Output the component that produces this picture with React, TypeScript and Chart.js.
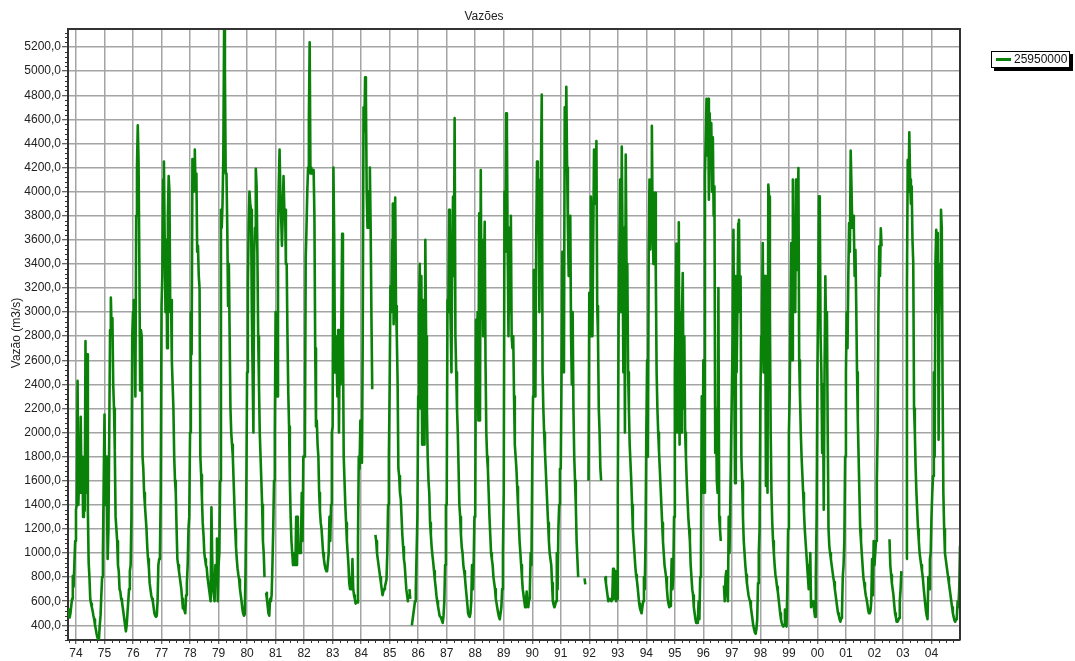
import React, { useEffect, useRef } from 'react';
import { Chart, registerables } from 'chart.js';

Chart.register(...registerables);

// Decade (10-day) values, 36 per year (index 0 = early January ... 35 = late December)
const y1973 = [530, 470, 465, 500, 560, 620, 810, 720, 920, 1100]; // starts at decade 26
const y1974 = [1360,1400,2430,1400,1650,1500,2130,1500,1800,1300,1700,1350,2760,1500,2650,1350,920,800,620,580,550,520,480,450,400,370,330,300,285,290,400,480,650,800,1000,1600];
const y1975 = [2150,1400,1800,1500,950,1200,2000,2850,3120,2850,2950,2400,2200,1850,1300,1200,1100,900,850,700,680,620,600,550,500,450,400,350,400,500,600,700,850,900,1300,2800];
const y1976 = [3000,3100,2800,2300,3800,4200,4550,4250,3400,2350,2850,2800,1800,1700,1500,1400,1300,1200,1050,950,880,750,700,650,620,600,550,500,480,470,480,600,900,950,1000,1500];
const y1977 = [3050,3300,4100,4250,3600,3000,3600,2700,3800,4130,4000,3000,3100,2600,2400,2200,1800,1600,1500,1200,950,900,850,800,750,700,620,540,560,520,500,650,750,900,1200,1300];
const y1978 = [2000,3000,2650,4270,4000,4200,4350,4000,4150,3500,3550,3300,3200,1800,1650,1450,1250,1150,1000,950,900,880,800,750,700,650,600,1380,950,700,700,600,900,750,1120,600];
const y1979 = [900,1000,1600,3850,3700,3900,4300,5350,5000,4150,4150,3700,3050,3400,2800,2200,2000,1900,1800,1600,1400,1200,1050,950,870,820,780,700,650,600,540,500,480,490,820,1470];
const y1980 = [2500,3200,3740,4000,3900,3850,3000,2500,2000,3500,3700,4190,4050,3500,2800,2400,2000,1800,1600,1400,1100,1000,800,null,670,620,560,500,480,620,600,650,900,1200,1600,2000];
const y1981 = [3000,2800,2300,3600,4050,4350,4000,3800,3550,3800,4130,3850,3850,3400,3400,2800,2330,2050,1600,1300,1100,1000,900,950,1000,900,1300,900,1300,1000,1000,1000,1050,1500,1100,1800];
const y1982 = [1800,1900,3450,3700,4000,4200,4600,5240,4150,4200,4150,4150,4180,3800,2700,2050,2100,1900,1800,1500,1350,1250,1200,1100,1000,950,900,870,850,850,850,1000,1300,1100,1400,2000];
const y1983 = [2050,4200,3600,2500,2800,2600,2300,2850,2000,2800,2400,2900,3650,2800,1800,1600,1400,1250,1100,1000,900,750,700,800,700,950,700,650,620,580,600,590,1100,1800,1700,2100];
const y1984 = [1800,1750,2800,4700,4500,4950,4800,4000,3700,4000,3700,4200,3700,2950,2360,null,null,null,1150,1100,1000,950,900,850,800,750,700,650,680,700,720,750,780,1000,1400,1800];
const y1985 = [2400,3214,3000,3600,3900,2900,3600,3950,3050,2800,2440,1700,1640,1500,1450,1300,1150,1050,950,900,800,700,650,600,null,700,620,null,400,450,500,550,600,700,1000,1300];
const y1986 = [2300,3000,3400,2200,3300,1900,3100,2700,1900,3600,2800,2200,1800,1600,1500,1250,1150,1050,980,920,850,780,720,650,600,560,520,480,470,460,440,420,480,600,900,1400];
const y1987 = [1400,3100,3000,3850,3300,2900,2500,3500,3960,3300,4610,2800,2500,2200,2000,1700,1400,1300,1150,1050,1000,900,850,800,720,650,580,500,480,470,500,600,900,700,900,1300];
const y1988 = [1300,2937,2500,3000,2100,3820,2100,4180,2950,3600,2800,3300,3750,2600,2000,1800,1700,1500,1300,1150,1000,950,900,800,750,700,620,580,540,500,470,450,500,550,700,1000];
const y1989 = [1500,4000,3500,4650,4500,3500,2800,3700,3000,3800,2800,2700,2800,2300,1900,1800,1700,1550,1400,1250,1100,1000,900,800,700,650,600,550,600,680,600,550,620,700,1000,900];
const y1990 = [1750,2300,3350,3350,2300,3600,4250,3700,4100,3000,3800,4200,4805,2500,2200,2000,1850,1700,1550,1400,1250,1100,1000,950,900,750,600,570,550,570,600,1000,700,1200,1400,1700];
const y1991 = [1700,2500,3500,3500,2500,4700,4200,4870,4200,3700,3300,3700,3800,2800,2400,3000,2200,1800,1600,1400,1100,950,800,null,null,null,null,null,null,null,790,740,null,null,null,1600];
const y1992 = [3160,2800,3960,3500,2800,3600,4350,4350,3900,4420,3050,2800,2200,2000,1700,1600,null,null,null,null,800,750,700,650,600,610,620,610,600,620,870,620,650,850,600,620];
const y1993 = [1500,2900,3500,4100,3000,4375,3600,2500,3700,2000,4307,3400,3400,2500,2200,1900,1750,1600,1400,1200,1100,1000,900,820,780,720,650,580,540,520,500,550,600,800,700,1100];
const y1994 = [2000,2600,1800,3500,4100,3520,4000,4547,3700,3400,3990,3990,3300,2500,2200,2000,1850,1700,1550,1400,1250,1100,1000,900,850,800,700,620,580,550,560,650,950,700,800,1300];
const y1995 = [2500,3000,3570,2000,3300,3745,1900,3000,2000,3000,3325,2200,2800,2000,1800,1600,1450,1300,1200,1100,900,800,700,650,550,500,450,420,420,430,600,450,800,1000,2300,1500];
const y1996 = [2600,1500,4127,4445,4770,4300,4770,3933,4650,4200,4570,4000,4450,3800,4044,1830,2200,1600,1500,3200,1300,1200,1100,null,null,null,730,600,800,850,700,600,1300,1000,1400,1900];
const y1997 = [1900,2800,3684,2500,1580,3300,2500,3000,3734,3767,3000,3297,1805,1600,1300,1100,1000,900,820,750,700,650,620,600,550,500,450,400,370,340,330,370,450,750,1000,1200];
const y1998 = [2300,2800,3000,3574,2500,3300,3300,1556,2500,1500,4058,3960,3000,2000,1500,1250,1100,1000,900,820,780,720,680,620,560,500,450,420,400,390,400,530,400,390,700,1200];
const y1999 = [2000,2300,3000,3574,2600,4100,3350,3800,3000,4100,3350,3800,4196,2600,2300,2000,1800,1650,1500,1350,1200,1100,1000,900,800,700,750,1000,550,550,580,600,520,470,800,1300];
const y2000 = [2500,3200,3961,3900,2800,2500,1830,2400,1360,2500,3297,2800,3000,2000,1200,1060,1000,950,900,850,800,760,700,650,600,550,500,480,450,430,460,500,800,900,1100,1800];
const y2001 = [2500,3000,2700,3300,3740,3500,4340,4044,3700,3800,3700,3300,3518,3050,2500,2100,1800,1500,1200,1100,1000,900,800,750,700,650,620,580,530,500,500,520,600,950,650,1100];
const y2002 = [900,1000,1100,1600,2000,3000,3546,3300,3695,3546,null,null,null,null,null,null,null,null,null,1114,900,820,750,700,650,570,500,470,430,430,440,460,600,700,850,null];
const y2003 = [null,null,null,null,950,3200,4265,4000,4492,4100,3900,4044,3600,3408,2200,2000,1700,1500,1350,1200,1100,1000,950,900,850,800,720,650,580,520,480,450,800,700,950,1000];
const y2004 = [1300,1500,1640,2500,1800,3408,3684,3000,3656,1940,3000,3400,3850,3700,2400,1500,1200,1000,950,900,850,800,750,700,650,600,550,500,470,440,430,450,470,600,550,700];
const y2005 = [1060];

// [year, first decade index, values]
const yearSeries: [number, number, (number | null)[]][] = [
  [1973, 26, y1973], [1974, 0, y1974], [1975, 0, y1975], [1976, 0, y1976], [1977, 0, y1977],
  [1978, 0, y1978], [1979, 0, y1979], [1980, 0, y1980], [1981, 0, y1981], [1982, 0, y1982],
  [1983, 0, y1983], [1984, 0, y1984], [1985, 0, y1985], [1986, 0, y1986], [1987, 0, y1987],
  [1988, 0, y1988], [1989, 0, y1989], [1990, 0, y1990], [1991, 0, y1991], [1992, 0, y1992],
  [1993, 0, y1993], [1994, 0, y1994], [1995, 0, y1995], [1996, 0, y1996], [1997, 0, y1997],
  [1998, 0, y1998], [1999, 0, y1999], [2000, 0, y2000], [2001, 0, y2001], [2002, 0, y2002],
  [2003, 0, y2003], [2004, 0, y2004], [2005, 0, y2005],
];

const yearTicks = [1974,1975,1976,1977,1978,1979,1980,1981,1982,1983,1984,1985,1986,1987,1988,1989,1990,1991,1992,1993,1994,1995,1996,1997,1998,1999,2000,2001,2002,2003,2004];
const flowTicks = [400,600,800,1000,1200,1400,1600,1800,2000,2200,2400,2600,2800,3000,3200,3400,3600,3800,4000,4200,4400,4600,4800,5000,5200];

const seriesName = '25950000';
const chartTitle = 'Vazões';
const yTitle = 'Vazão (m3/s)';
const lineColor = '#0a820a';

const FONT = "'Liberation Sans', Arial, sans-serif";

const decorPlugin = {
  id: 'decor',
  afterDraw(chart: any) {
    const { ctx, chartArea: a, scales } = chart;
    const x = scales.x;
    const y = scales.y;
    ctx.save();
    // top & right frame
    ctx.strokeStyle = '#333';
    ctx.lineWidth = 2;
    ctx.beginPath();
    ctx.moveTo(a.left, a.top);
    ctx.lineTo(a.right, a.top);
    ctx.lineTo(a.right, a.bottom);
    ctx.stroke();
    // minor ticks
    ctx.lineWidth = 1;
    ctx.strokeStyle = '#333';
    ctx.beginPath();
    for (let v = 280; v <= y.max; v += 40) {
      if (v % 200 === 0) continue;
      const py = Math.round(y.getPixelForValue(v)) + 0.5;
      ctx.moveTo(a.left - 3, py);
      ctx.lineTo(a.left, py);
    }
    for (let t = 1973.75; t < x.max; t += 0.25) {
      if (Math.abs(t - Math.round(t)) < 1e-6) continue;
      const px = Math.round(x.getPixelForValue(t)) + 0.5;
      ctx.moveTo(px, a.bottom);
      ctx.lineTo(px, a.bottom + 3);
    }
    ctx.stroke();
    // chart title
    ctx.fillStyle = '#222';
    ctx.font = `12px ${FONT}`;
    ctx.textAlign = 'center';
    ctx.textBaseline = 'middle';
    ctx.fillText(chartTitle, 484, 17);
    // y axis title
    ctx.save();
    ctx.translate(17, 333);
    ctx.rotate(-Math.PI / 2);
    ctx.fillText(yTitle, 0, 0);
    ctx.restore();
    // legend box with shadow
    const bx = 991, by = 51, bw = 79, bh = 17;
    ctx.fillStyle = '#000';
    ctx.fillRect(bx + 3, by + 3, bw, bh);
    ctx.fillStyle = '#fff';
    ctx.fillRect(bx, by, bw, bh);
    ctx.strokeStyle = '#000';
    ctx.lineWidth = 1;
    ctx.strokeRect(bx + 0.5, by + 0.5, bw - 1, bh - 1);
    ctx.strokeStyle = lineColor;
    ctx.lineWidth = 3;
    ctx.beginPath();
    ctx.moveTo(996, 59.5);
    ctx.lineTo(1011, 59.5);
    ctx.stroke();
    ctx.fillStyle = '#111';
    ctx.textAlign = 'left';
    ctx.fillText(seriesName, 1014, 60);
    ctx.restore();
  },
};

export default function App() {
  const ref = useRef<HTMLCanvasElement | null>(null);
  useEffect(() => {
    if (!ref.current) return;
    Chart.defaults.font.family = FONT;
    const points: { x: number; y: number | null }[] = [];
    for (const [yr, start, vals] of yearSeries) {
      vals.forEach((v, i) => points.push({ x: yr + (start + i) / 36, y: v }));
    }
    const chart = new Chart(ref.current, {
      type: 'line',
      data: {
        datasets: [
          {
            label: seriesName,
            data: points as any,
            borderColor: lineColor,
            backgroundColor: lineColor,
            borderWidth: 2.6,
            pointRadius: 0,
            pointHoverRadius: 0,
            tension: 0,
            spanGaps: false,
            borderJoinStyle: 'round',
          },
        ],
      },
      options: {
        animation: false,
        responsive: true,
        maintainAspectRatio: false,
        events: [],
        layout: { padding: { left: 0, right: 115, top: 29, bottom: 0 } },
        plugins: { legend: { display: false }, title: { display: false }, tooltip: { enabled: false } },
        scales: {
          x: {
            type: 'linear',
            min: 1973.72,
            max: 2005.0,
            afterBuildTicks: (s: any) => {
              s.ticks = yearTicks.map((v) => ({ value: v }));
            },
            afterFit: (s: any) => {
              s.height = 21;
            },
            ticks: {
              autoSkip: false,
              maxRotation: 0,
              padding: 2,
              color: '#222',
              font: { size: 12, family: FONT },
              callback: (v: any) => String(Number(v) % 100).padStart(2, '0'),
            },
            grid: { color: '#a4a4a4', lineWidth: 1.5, tickColor: '#333', tickLength: 4, tickWidth: 1 },
            border: { color: '#333', width: 2 },
          },
          y: {
            type: 'linear',
            min: 278,
            max: 5350,
            afterBuildTicks: (s: any) => {
              s.ticks = flowTicks.map((v) => ({ value: v }));
            },
            afterFit: (s: any) => {
              s.width = 68;
            },
            ticks: {
              autoSkip: false,
              padding: 1,
              color: '#222',
              font: { size: 12, family: FONT },
              callback: (v: any) => Number(v).toFixed(1).replace('.', ','),
            },
            grid: { color: '#a4a4a4', lineWidth: 1.5, tickColor: '#333', tickLength: 6, tickWidth: 1 },
            border: { color: '#333', width: 2 },
          },
        },
      },
      plugins: [decorPlugin],
    });
    return () => chart.destroy();
  }, []);
  return (
    <div style={{ position: 'absolute', left: 0, top: 0, width: 1075, height: 661, background: '#fff' }}>
      <canvas ref={ref} />
    </div>
  );
}
